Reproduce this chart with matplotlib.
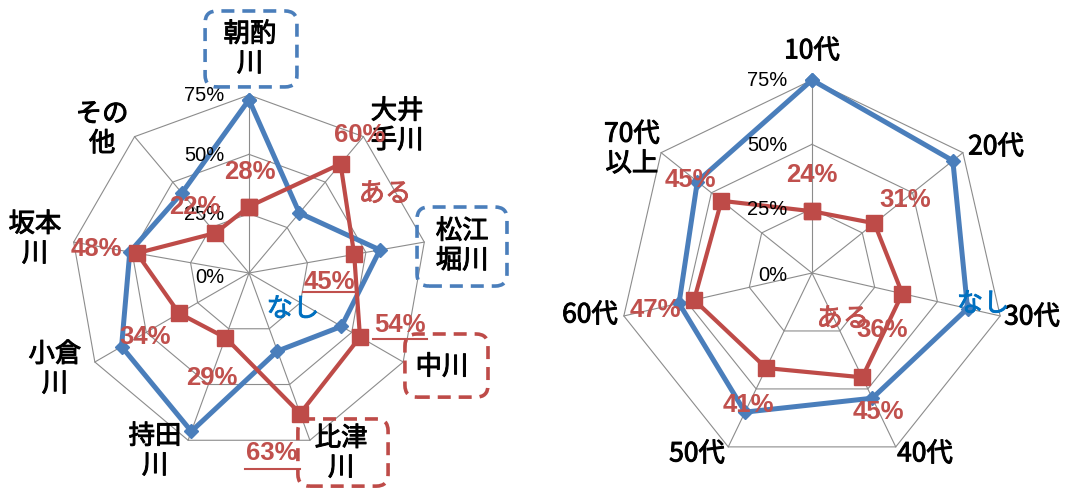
import numpy as np
import matplotlib
matplotlib.use("Agg")
import matplotlib.pyplot as plt
import matplotlib.patheffects as pe
from matplotlib.patches import FancyBboxPatch

plt.rcParams['font.family'] = ['Noto Sans CJK JP', 'DejaVu Sans']

# river chart (clockwise from top)
rivers = ['朝酌\n川', '大井\n手川', '松江\n堀川', '中川', '比津\n川', '持田\n川', '小倉\n川', '坂本\n川', 'その\n他']
river_none = [73, 33, 56, 45, 35, 71, 62, 51, 44]
river_yes = [28, 60, 45, 54, 63, 29, 34, 48, 22]

# age chart (clockwise from top)
ages = ['10代', '20代', '30代', '40代', '50代', '60代', '70代\n以上']
age_none = [75, 70, 62, 54, 60, 53, 57]
age_yes = [24, 31, 36, 45, 41, 47, 45]

ticks = [0, 25, 50, 75]
tick_labels = ['0%', '25%', '50%', '75%']

BLUE = '#4A7EBB'
RED = '#BE4B48'
LABEL_RED = '#C0504D'
NONE_BLUE = '#0070C0'
GRID = '#8C8C8C'


def to_xy(vals):
    vals = np.asarray(vals, dtype=float)
    ang = np.arange(len(vals)) * 2 * np.pi / len(vals)
    return vals * np.sin(ang), vals * np.cos(ang)


def closed(a):
    return np.append(a, a[0])


def draw_radar(ax, none_vals, yes_vals):
    n = len(none_vals)
    for t in ticks[1:]:
        gx, gy = to_xy([t] * n)
        ax.plot(closed(gx), closed(gy), color=GRID, lw=0.8, zorder=1)
    sx, sy = to_xy([ticks[-1]] * n)
    for x, y in zip(sx, sy):
        ax.plot([0, x], [0, y], color=GRID, lw=0.8, zorder=1)

    bx, by = to_xy(none_vals)
    ax.plot(closed(bx), closed(by), color=BLUE, lw=3.6, marker='D', ms=7,
            mfc=BLUE, mec=BLUE, zorder=3, solid_joinstyle='miter')
    rx, ry = to_xy(yes_vals)
    ax.plot(closed(rx), closed(ry), color=RED, lw=3.0, marker='s', ms=12,
            mfc=RED, mec=RED, zorder=4, solid_joinstyle='miter')


def setup(ax, scale, cx, cy, x0, x1):
    # pixel window -> percent units, same scale on both axes
    ax.set_xlim((x0 - cx) / scale, (x1 - cx) / scale)
    ax.set_ylim((cy - 489) / scale, cy / scale)
    ax.axis('off')


def dashed_box(ax, x0, y0, x1, y1, color):
    box = FancyBboxPatch((x0, y0), x1 - x0, y1 - y0,
                         boxstyle='round,pad=0,rounding_size=5',
                         fill=False, ec=color, lw=2.6,
                         linestyle=(0, (3.6, 2.2)), zorder=6)
    ax.add_patch(box)


fig = plt.figure(figsize=(10.7, 4.89), dpi=100)
ax1 = fig.add_axes([0, 0, 0.5, 1])
ax2 = fig.add_axes([0.5, 0, 0.5, 1])

setup(ax1, 178 / 75, 249, 274, 0, 535)
setup(ax2, 193 / 75, 812, 274, 535, 1070)

draw_radar(ax1, river_none, river_yes)
draw_radar(ax2, age_none, age_yes)

# slightly heavier than regular weight
thick = [pe.withStroke(linewidth=0.7, foreground='black')]
cat_kw = dict(fontsize=19, ha='center', va='center', linespacing=1.12,
              path_effects=thick, zorder=7)
pct_kw = dict(fontsize=18.5, ha='center', va='center', color=LABEL_RED,
              fontweight='bold', family=['Liberation Sans', 'DejaVu Sans'], zorder=7)
tick_kw = dict(fontsize=14.5, ha='right', va='center',
               family=['Liberation Sans', 'DejaVu Sans'], zorder=5)
word_kw = dict(fontsize=19, ha='center', va='center', zorder=7)

# left chart labels
river_pos = [(0.4, 94.4), (62.4, 62.0), (89.8, 11.4), (81.3, -39.6), (38.8, -75.9),
             (-39.6, -75.0), (-81.8, -40.5), (-90.2, 14.3), (-61.9, 60.7)]
for name, (x, y) in zip(rivers, river_pos):
    ax1.text(x, y, name, **cat_kw)

river_pct_pos = [(0.4, 43.0), (46.8, 58.6), (33.7, -3.4), (63.6, -21.5), (9.7, -75.4),
                 (-15.6, -43.8), (-43.8, -26.5), (-64.1, 10.5), (-22.8, 28.2)]
for v, (x, y) in zip(river_yes, river_pct_pos):
    ax1.text(x, y, f'{v}%', **pct_kw)

for t, s in zip(ticks, tick_labels):
    ax1.text(-10.5, t - (1.3 if t == 0 else 0), s, **tick_kw)

ax1.text(57.3, 33.3, 'ある', color=LABEL_RED,
         path_effects=[pe.withStroke(linewidth=0.6, foreground=LABEL_RED)], **word_kw)
ax1.text(18.5, -15.2, 'なし', color=NONE_BLUE,
         path_effects=[pe.withStroke(linewidth=0.6, foreground=NONE_BLUE)], **word_kw)

# leader lines under labels
for (xa, xb, y) in [(22.8, 45.1, -8.0), (52.3, 75.0, -27.8), (-1.7, 21.5, -82.6)]:
    ax1.plot([xa, xb], [y, y], color=LABEL_RED, lw=1.5, zorder=5)

dashed_box(ax1, -18.5, 78.4, 20.2, 110.4, BLUE)
dashed_box(ax1, 70.8, -5.5, 108.7, 27.8, BLUE)
dashed_box(ax1, 65.7, -52.3, 100.7, -25.7, RED)
dashed_box(ax1, 20.6, -89.8, 58.6, -61.5, RED)

# right chart labels
age_pos = [(0, 86.3), (71.5, 49.0), (85.5, -17.1), (43.9, -70.3),
           (-44.7, -70.3), (-86.3, -16.3), (-70.0, 48.2)]
for name, (x, y) in zip(ages, age_pos):
    ax2.text(x, y, name, **cat_kw)

age_pct_pos = [(0, 38.5), (36.1, 28.8), (27.2, -21.8), (25.7, -53.6),
               (-24.9, -50.9), (-61.0, -14.0), (-47.4, 36.5)]
for v, (x, y) in zip(age_yes, age_pct_pos):
    ax2.text(x, y, f'{v}%', **pct_kw)

for t, s in zip(ticks, tick_labels):
    ax2.text(-9.7, t - (0.4 if t == 0 else 0), s, **tick_kw)

ax2.text(12.0, -17.9, 'ある', color=LABEL_RED,
         path_effects=[pe.withStroke(linewidth=0.6, foreground=LABEL_RED)],
         **dict(word_kw, zorder=6))
ax2.text(66.5, -12.0, 'なし', color=NONE_BLUE,
         path_effects=[pe.withStroke(linewidth=0.6, foreground=NONE_BLUE)], **word_kw)

fig.savefig('out.png', dpi=100)
